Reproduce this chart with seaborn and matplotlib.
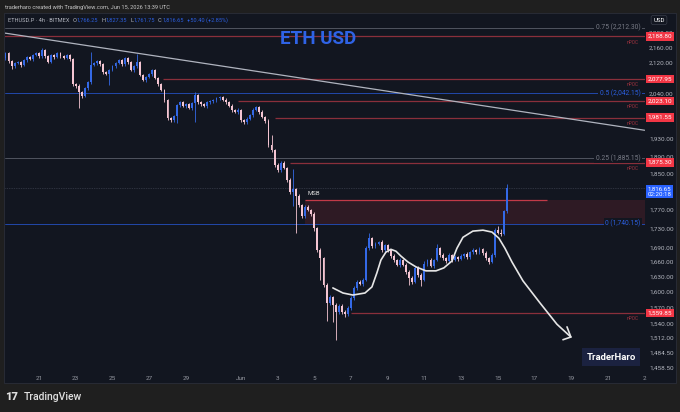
import pandas as pd
import numpy as np
import matplotlib
matplotlib.use("Agg")
import matplotlib.pyplot as plt
import matplotlib.dates as mdates
from matplotlib.patches import Rectangle
from matplotlib.ticker import FixedLocator, FuncFormatter, NullLocator
import seaborn as sns

# ETHUSD.P 4h candles (closes, open = previous close)
first_open = 2131
close = [2144, 2123, 2110, 2118, 2121, 2113, 2126, 2134, 2129, 2139,
         2144, 2136, 2152, 2136, 2121, 2139, 2134, 2144, 2136, 2131,
         2139, 2129, 2065, 2060, 2044, 2034, 2054, 2070, 2113, 2118,
         2123, 2115, 2095, 2090, 2100, 2110, 2118, 2126, 2115, 2131,
         2121, 2100, 2110, 2121, 2088, 2075, 2083, 2090, 2100, 2080,
         2065, 2049, 2024, 1980, 1975, 1985, 2012, 2019, 2010, 2014,
         2005, 2017, 2036, 2019, 2014, 2010, 2019, 2022, 2024, 2029,
         2031, 2026, 2019, 2010, 2000, 1995, 2000, 1975, 1970, 1978,
         1988, 2000, 2007, 1995, 1983, 1973, 1916, 1904, 1870, 1858,
         1874, 1863, 1835, 1809, 1815, 1800, 1780, 1756, 1776, 1769,
         1761, 1730, 1684, 1668, 1614, 1578, 1590, 1575, 1561, 1573,
         1561, 1557, 1569, 1588, 1608, 1620, 1616, 1624, 1688, 1709,
         1692, 1697, 1701, 1684, 1694, 1684, 1672, 1664, 1654, 1664,
         1654, 1640, 1628, 1620, 1648, 1634, 1624, 1656, 1664, 1652,
         1664, 1688, 1674, 1668, 1662, 1674, 1664, 1670, 1666, 1672,
         1676, 1670, 1680, 1684, 1680, 1686, 1678, 1668, 1660, 1674,
         1726, 1720, 1718, 1766.25, 1816.65]
wick_up = [4, 3, 3, 4, 3, 3, 4, 3, 4, 3,
           4, 3, 5, 3, 3, 4, 3, 4, 3, 3,
           4, 3, 3, 3, 4, 3, 4, 3, 34, 4,
           3, 4, 3, 3, 4, 3, 4, 3, 3, 4,
           3, 4, 3, 20, 4, 3, 3, 4, 3, 4,
           3, 3, 4, 3, 4, 3, 4, 3, 4, 3,
           3, 4, 8, 3, 4, 3, 4, 3, 3, 4,
           3, 4, 3, 3, 4, 3, 4, 3, 3, 4,
           3, 4, 3, 3, 4, 3, 4, 24, 3, 4,
           5, 4, 3, 4, 45, 3, 4, 3, 5, 4,
           3, 4, 3, 4, 3, 4, 5, 3, 4, 4,
           3, 4, 3, 4, 3, 4, 3, 4, 5, 11,
           3, 4, 3, 4, 3, 4, 3, 4, 3, 4,
           3, 4, 3, 3, 4, 3, 4, 5, 3, 4,
           3, 8, 3, 4, 3, 4, 3, 4, 3, 4,
           3, 4, 3, 4, 3, 4, 3, 4, 3, 4,
           4, 9, 9, 4, 10.7]
wick_dn = [4, 3, 6, 4, 3, 4, 3, 4, 3, 4,
           3, 4, 3, 4, 3, 3, 4, 3, 4, 3,
           3, 4, 5, 4, 39, 4, 3, 4, 4, 3,
           4, 3, 4, 3, 28, 3, 4, 3, 4, 3,
           4, 3, 4, 3, 4, 3, 4, 3, 4, 3,
           4, 3, 4, 5, 4, 3, 17, 4, 3, 4,
           3, 4, 47, 3, 4, 3, 4, 3, 4, 3,
           4, 3, 4, 3, 4, 3, 4, 4, 3, 4,
           3, 4, 3, 4, 3, 4, 5, 4, 5, 4,
           4, 3, 5, 4, 30, 80, 4, 5, 4, 3,
           4, 5, 4, 44, 5, 34, 4, 33, 52, 4,
           4, 5, 3, 4, 3, 4, 3, 4, 3, 4,
           3, 4, 3, 4, 3, 4, 3, 4, 3, 4,
           3, 4, 14, 4, 3, 4, 12, 3, 4, 3,
           4, 3, 4, 3, 4, 3, 4, 3, 4, 3,
           4, 3, 4, 3, 4, 3, 4, 3, 4, 3,
           4, 3, 4, 3, 4.5]

# horizontal levels
npoc_prices = [2188.80, 2077.95, 2023.10, 1981.55, 1875.30, 1559.85]
npoc_start = ["2026-05-19 00:00", "2026-05-27 18:00", "2026-05-31 20:00",
              "2026-06-02 20:00", "2026-06-03 16:00", "2026-06-07 00:00"]
fib_levels = [0.75, 0.5, 0.25, 0]
fib_prices = [2212.30, 2042.15, 1885.15, 1740.15]
last_price = 1816.65
msb_price = 1792
msb_start = "2026-06-04 12:00"
msb_end = "2026-06-17 16:00"

trend_dates = ["2026-05-19 03:00", "2026-06-23 00:00"]
trend_prices = [2198, 1951]

# hand drawn path (days after Jun 1, price)
curve_days = [5.01, 5.56, 6.10, 6.76, 7.14, 7.41, 7.63, 7.90, 8.17, 8.45,
              8.72, 9.10, 9.54, 10.08, 10.63, 11.06, 11.50, 11.77, 12.10, 12.64,
              13.19, 13.68, 14.06, 14.39, 14.77, 15.37, 16.29, 17.22, 17.98]
curve_prices = [1608, 1598, 1594, 1598, 1610, 1638, 1664, 1680, 1686, 1682,
                1672, 1660, 1650, 1642, 1642, 1648, 1662, 1688, 1711, 1724,
                1726, 1722, 1709, 1688, 1660, 1622, 1579, 1538, 1514]
arrow_days = [17.77, 17.98, 17.55]
arrow_prices = [1533, 1514, 1509]

yticks = [2200, 2160, 2120, 2040, 1930, 1890, 1850, 1770,
          1730, 1690, 1660, 1630, 1600, 1570, 1540, 1512, 1484.5, 1458.5]
xtick_dates = ["2026-05-21", "2026-05-23", "2026-05-25", "2026-05-27", "2026-05-29",
               "2026-06-01", "2026-06-03", "2026-06-05", "2026-06-07", "2026-06-09",
               "2026-06-11", "2026-06-13", "2026-06-15", "2026-06-17", "2026-06-19",
               "2026-06-21", "2026-06-23"]
xtick_labels = ["21", "23", "25", "27", "29", "Jun", "3", "5", "7", "9",
                "11", "13", "15", "17", "19", "21", "2"]

OUTER = "#1f1f1f"
PANEL = "#121620"
UP = "#3469e6"
DOWN = "#f4c5d2"
RED = "#8a2f3b"
TAG = "#f23645"
BLUE = "#2c5fe0"
FIB_BLUE = "#2550c0"
GREY = "#5a5e6a"

sns.set_style("dark", {"axes.facecolor": PANEL, "figure.facecolor": OUTER})
plt.rcParams["font.family"] = ["Roboto", "DejaVu Sans"]


def num(s):
    return mdates.date2num(pd.Timestamp(s))


def fig_xy(x, y):
    return x / 680, 1 - y / 412


fig = plt.figure(figsize=(6.8, 4.12), dpi=100)
fig.patch.set_facecolor(OUTER)
fig.add_artist(Rectangle(fig_xy(4, 383), 672 / 680, 370 / 412, transform=fig.transFigure,
                         facecolor=PANEL, edgecolor="#2a2e39", lw=0.6, zorder=0))
ax = fig.add_axes([5 / 680, 1 - 370 / 412, 640 / 680, 356 / 412])
ax.set_facecolor(PANEL)
for s in ax.spines.values():
    s.set_visible(False)
ax.grid(False)

# candles
n = len(close)
times = pd.date_range(end="2026-06-15 12:00", periods=n, freq="4h")
x = mdates.date2num(times)
o = np.array([first_open] + close[:-1], dtype=float)
c = np.array(close, dtype=float)
hi = np.maximum(o, c) + np.array(wick_up)
lo = np.minimum(o, c) - np.array(wick_dn)
cols = [UP if cc >= oo else DOWN for oo, cc in zip(o, c)]
w = 0.62 * 4 / 24
ax.vlines(x, lo, hi, colors=cols, lw=0.6, zorder=4)
ax.bar(x, np.maximum(np.abs(c - o), 2.0), bottom=np.minimum(o, c), width=w,
       color=cols, lw=0, zorder=5)

xmin, xmax = num("2026-05-19 03:25"), num("2026-06-23 00:30")
ax.set_yscale("log")
ax.set_ylim(1454, 2250)
ax.set_xlim(xmin, xmax)

# fib levels
for lvl, p in zip(fib_levels, fib_prices):
    col = GREY if lvl in (0.75, 0.25) else FIB_BLUE
    tcol = "#787b86" if lvl in (0.75, 0.25) else BLUE
    ax.axhline(p, color=col, lw=0.6, zorder=2)
    ax.text(0.993, p, f"{lvl:g} ({p:,.2f})", transform=ax.get_yaxis_transform(),
            ha="right", va="center", fontsize=4.8, color=tcol, zorder=6,
            bbox=dict(boxstyle="square,pad=0.2", fc=PANEL, ec="none"))

# nPOC levels
for p, s in zip(npoc_prices, npoc_start):
    ax.hlines(p, num(s), xmax, color=RED, lw=0.9, zorder=2)
    ax.annotate("nPOC", xy=(0.99, p), xycoords=ax.get_yaxis_transform(),
                xytext=(0, -4.2), textcoords="offset points", ha="right",
                va="center", fontsize=3.4, color="#a33340")
    ax.text(1.004, p, f"{p:,.2f}", transform=ax.get_yaxis_transform(), ha="left",
            va="center", fontsize=4.6, color="white", clip_on=False, zorder=20,
            bbox=dict(boxstyle="square,pad=0.25", fc=TAG, ec="none"))

# MSB zone
ax.fill_between([num(msb_start), xmax], fib_prices[3], msb_price, color="#f23645",
                alpha=0.13, lw=0, zorder=1)
ax.hlines(msb_price, num(msb_start), num(msb_end), color="#c23a48", lw=0.9, zorder=3)
ax.annotate("MSB", xy=(num(msb_start), msb_price), xytext=(1.5, 3.5),
            textcoords="offset points", fontsize=4.3, color="#dcdcdc")

# last price line + tag
ax.axhline(last_price, color="#4a4f5e", lw=0.5, ls=(0, (1, 1.5)), zorder=2)
ax.annotate(f"{last_price:,.2f}\n02:20:18", xy=(1.004, last_price),
            xycoords=ax.get_yaxis_transform(), xytext=(0, -2.2), textcoords="offset points",
            ha="left", va="center", fontsize=4.4, color="white", annotation_clip=False,
            zorder=20, linespacing=1.1,
            bbox=dict(boxstyle="square,pad=0.25", fc="#2962ff", ec="none"))

# trendline and drawing
ax.plot([num(d) for d in trend_dates], trend_prices, color="#b0b4bf", lw=0.9, zorder=3)
jun1 = num("2026-06-01")
curve = pd.DataFrame({"x": [jun1 + d for d in curve_days], "price": curve_prices})
sns.lineplot(data=curve, x="x", y="price", ax=ax, color="#e6e6e6", lw=1.2,
             sort=False, estimator=None, zorder=7)
ax.plot([jun1 + d for d in arrow_days], arrow_prices, color="#e6e6e6", lw=1.2, zorder=7)
ax.set_xlabel("")
ax.set_ylabel("")

# axes ticks
ax.yaxis.set_major_locator(FixedLocator(yticks))
ax.yaxis.set_minor_locator(NullLocator())
ax.yaxis.set_major_formatter(FuncFormatter(lambda v, pos: f"{v:,.2f}"))
ax.yaxis.tick_right()
ax.tick_params(axis="y", length=0, pad=3, labelsize=4.6, labelcolor="#b2b5be")
ax.set_xticks([num(d) for d in xtick_dates])
ax.set_xticklabels(xtick_labels)
ax.tick_params(axis="x", length=0, pad=4, labelsize=4.6, labelcolor="#9598a1")

# title and header texts
ax.text(*fig_xy(318, 39), "ETH USD", transform=fig.transFigure, ha="center", va="center",
        fontsize=13.5, fontweight="bold", color="#2f63e6")
fig.text(*fig_xy(5, 7), "traderharo created with TradingView.com, Jun 15, 2026 13:39 UTC",
         fontsize=4.1, color="#c8c8c8", va="center")

fig.canvas.draw()
renderer = fig.canvas.get_renderer()
header = [("ETHUSD.P · 4h · BITMEX", "#b2b5be", 3), ("O", "#b2b5be", 0.5), ("1,766.25", BLUE, 3),
          ("H", "#b2b5be", 0.5), ("1,827.35", BLUE, 3), ("L", "#b2b5be", 0.5),
          ("1,761.75", BLUE, 3), ("C", "#b2b5be", 0.5), ("1,816.65", BLUE, 3),
          ("+50.40 (+2.85%)", BLUE, 0)]
hx = 8
for txt, col, gap in header:
    t = fig.text(*fig_xy(hx, 20), txt, fontsize=4.1, color=col, va="center")
    hx = t.get_window_extent(renderer).x1 + gap

fig.text(*fig_xy(659, 20), "USD", fontsize=4.4, color="white", ha="center", va="center",
         bbox=dict(boxstyle="round,pad=0.35", fc=PANEL, ec="#3a3e4a", lw=0.5))
fig.text(*fig_xy(611, 357), "TraderHaro", fontsize=6.8, fontweight="bold", color="white",
         ha="center", va="center", bbox=dict(boxstyle="square,pad=0.5", fc="#1b2240", ec="none"))
fig.text(*fig_xy(5, 397), "17", fontsize=8, fontweight="heavy", color="#e0e0e0", va="center")
fig.text(*fig_xy(24, 397), "TradingView", fontsize=7.5, fontweight="medium", color="#e0e0e0",
         va="center")

fig.savefig("out.png", dpi=100, facecolor=OUTER)
